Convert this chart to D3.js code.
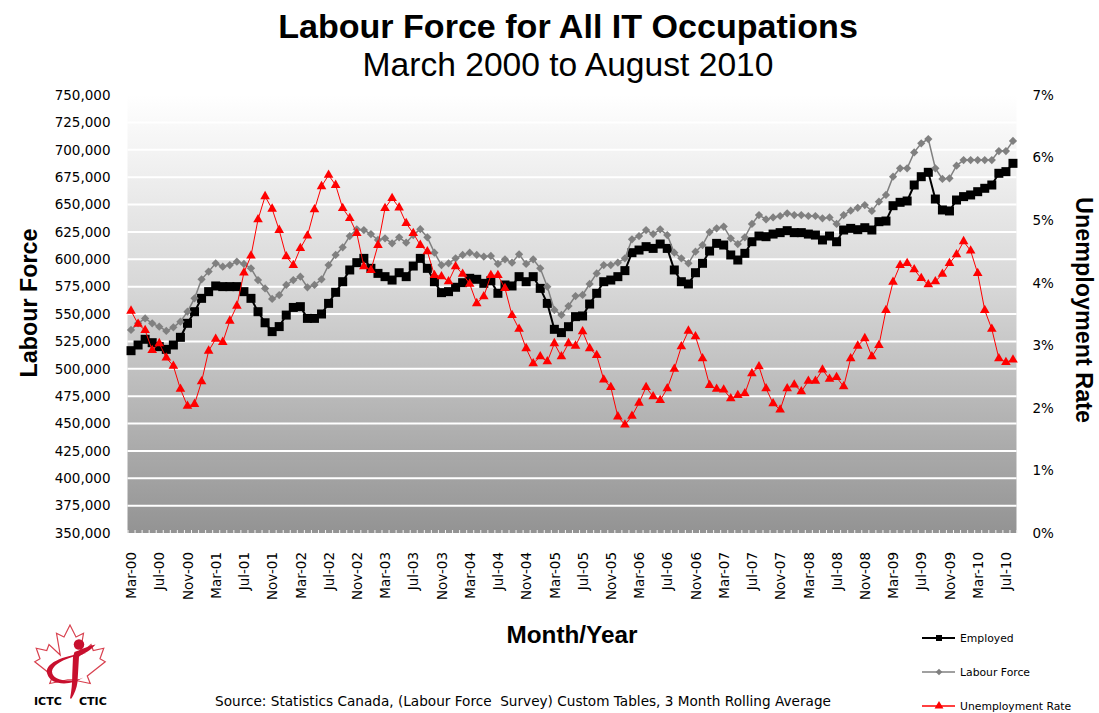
<html>
<head>
<script src="https://d3js.org/d3.v7.min.js"></script>
<style>
  body { margin: 0; background: #ffffff; }
  text { fill: #000; }
</style>
</head>
<body>
<svg width="1099" height="713" id="chart"></svg>
<script>
// month categories, Mar 2000 .. Aug 2010
var months = [
  "Mar-00","Apr-00","May-00","Jun-00","Jul-00","Aug-00","Sep-00","Oct-00","Nov-00","Dec-00",
  "Jan-01","Feb-01","Mar-01","Apr-01","May-01","Jun-01","Jul-01","Aug-01","Sep-01","Oct-01","Nov-01","Dec-01",
  "Jan-02","Feb-02","Mar-02","Apr-02","May-02","Jun-02","Jul-02","Aug-02","Sep-02","Oct-02","Nov-02","Dec-02",
  "Jan-03","Feb-03","Mar-03","Apr-03","May-03","Jun-03","Jul-03","Aug-03","Sep-03","Oct-03","Nov-03","Dec-03",
  "Jan-04","Feb-04","Mar-04","Apr-04","May-04","Jun-04","Jul-04","Aug-04","Sep-04","Oct-04","Nov-04","Dec-04",
  "Jan-05","Feb-05","Mar-05","Apr-05","May-05","Jun-05","Jul-05","Aug-05","Sep-05","Oct-05","Nov-05","Dec-05",
  "Jan-06","Feb-06","Mar-06","Apr-06","May-06","Jun-06","Jul-06","Aug-06","Sep-06","Oct-06","Nov-06","Dec-06",
  "Jan-07","Feb-07","Mar-07","Apr-07","May-07","Jun-07","Jul-07","Aug-07","Sep-07","Oct-07","Nov-07","Dec-07",
  "Jan-08","Feb-08","Mar-08","Apr-08","May-08","Jun-08","Jul-08","Aug-08","Sep-08","Oct-08","Nov-08","Dec-08",
  "Jan-09","Feb-09","Mar-09","Apr-09","May-09","Jun-09","Jul-09","Aug-09","Sep-09","Oct-09","Nov-09","Dec-09",
  "Jan-10","Feb-10","Mar-10","Apr-10","May-10","Jun-10","Jul-10","Aug-10"
];

// thousands of people
var employed = [
  516.5,521.7,526.9,523.8,520.2,517.7,521.7,528.7,541.5,552.1,564.3,570.4,575.6,575,575,575,570.4,564.3,552.1,542,533.9,
  538.5,549,556,556.7,546,546,550,559.7,569.8,579.5,590.2,596.9,600.8,591.7,587.1,584.1,581,587.7,584.1,593.8,600.8,
  591.7,579.5,569.5,570.4,574.4,578.6,582.6,581.7,578,580.4,568.9,576.5,575.6,584.1,579.5,584.1,573.4,559.7,536,533,
  538.4,547.6,548.2,559.1,568.9,579.5,581,584.1,589.6,606,608.4,611.5,609.9,613.9,609.9,590.2,579.5,577.4,587.7,596.3,607.5,
  614.5,613,603.9,599.3,605.4,616,621.2,620.6,623,624.3,626.1,624.3,624.3,623,622.1,617.6,621.2,616,626.7,628.2,627,
  628.8,626.7,634.3,634.9,648.9,652,653.2,667.8,675.4,679.4,655,645,644.1,654.1,657.2,658.7,661.7,664.8,667.8,678.5,680,687.6
];

var labourForce = [
  535.4,541.5,546,541.5,538.4,534.5,537.8,543,552.1,564.3,581.7,588.7,596.3,593.2,594.7,597.8,595.7,591.7,581,573.4,563.8,
  567.3,576.5,581,584.1,574.4,576.5,581.7,594.7,603.9,610.9,621.2,627.3,626.7,623,617.6,619.1,614.5,620,615.1,622.1,627.5,
  620,606,594.7,596.3,600.8,603.9,606,603.9,602.4,603,595.7,599.9,596.9,604.5,595.7,599.9,591.7,575,553.7,549.1,
  557.3,566.4,567.4,577.4,587.1,594.7,594.7,596.9,600.8,618.2,621.2,626.7,623,627.3,622.1,606,600.8,596.3,606.9,613,624.8,
  628.2,629.8,619.1,613.9,620,632.2,640.4,636.4,638.2,639.5,641.9,640.4,640.4,639.5,639.5,637.4,638.2,632.2,640.4,644.4,647,
  649.5,644.1,652.6,658.7,675.4,683,683,697.6,705.9,709.8,683,673.3,673.9,685.5,690.6,690.6,690.6,690.6,690.6,698.8,698.8,708
];

// percent
var unempRate = [
  3.55,3.34,3.24,2.92,3.03,2.80,2.67,2.30,2.03,2.06,2.42,2.91,3.10,3.05,3.39,3.63,4.16,4.43,5.01,5.38,5.18,
  4.84,4.42,4.28,4.55,4.75,5.17,5.54,5.72,5.56,5.19,5.03,4.79,4.26,4.20,4.60,5.19,5.35,5.20,4.95,4.79,4.60,
  4.50,4.12,4.10,4.02,4.26,4.14,3.98,3.67,3.78,4.12,4.12,3.91,3.48,3.26,2.95,2.71,2.82,2.74,3.03,2.82,
  3.03,2.99,3.22,2.95,2.84,2.45,2.33,1.86,1.73,1.87,2.08,2.33,2.18,2.12,2.31,2.62,2.98,3.23,3.14,2.79,2.36,
  2.30,2.29,2.15,2.20,2.23,2.55,2.66,2.31,2.07,1.97,2.31,2.37,2.26,2.43,2.43,2.61,2.46,2.49,2.34,2.79,2.99,
  3.11,2.82,3.00,3.56,4.01,4.28,4.31,4.21,4.07,3.97,4.02,4.14,4.31,4.45,4.66,4.51,4.15,3.56,3.26,2.79,2.73,2.77
];

var leftTicks = [350000,375000,400000,425000,450000,475000,500000,525000,550000,575000,
                 600000,625000,650000,675000,700000,725000,750000];
var rightTicks = [0,1,2,3,4,5,6,7];
var xTickLabels = ["Mar-00","Jul-00","Nov-00","Mar-01","Jul-01","Nov-01","Mar-02","Jul-02","Nov-02",
  "Mar-03","Jul-03","Nov-03","Mar-04","Jul-04","Nov-04","Mar-05","Jul-05","Nov-05","Mar-06","Jul-06",
  "Nov-06","Mar-07","Jul-07","Nov-07","Mar-08","Jul-08","Nov-08","Mar-09","Jul-09","Nov-09","Mar-10","Jul-10"];

var svg = d3.select("#chart");
var plotL = 127.5, plotR = 1016.5, plotT = 95, plotB = 533;

var x = d3.scalePoint().domain(months).range([plotL, plotR]).padding(0.5);
var xEdge = d3.scaleLinear().domain([0, months.length]).range([plotL, plotR]);
var yL = d3.scaleLinear().domain([350000, 750000]).range([plotB, plotT]);
var yR = d3.scaleLinear().domain([0, 7]).range([plotB, plotT]);

// shrink/grow a text so it spans the given width
function fit(sel, w) {
  var s = parseFloat(sel.style("font-size"));
  var len = sel.node().getComputedTextLength();
  sel.style("font-size", (s * w / len) + "px");
}

// plot background
var defs = svg.append("defs");
var grad = defs.append("linearGradient").attr("id", "bg")
  .attr("x1", 0).attr("y1", 0).attr("x2", 0).attr("y2", 1);
grad.append("stop").attr("offset", "0%").attr("stop-color", "#ffffff");
grad.append("stop").attr("offset", "45%").attr("stop-color", "#d6d6d6");
grad.append("stop").attr("offset", "100%").attr("stop-color", "#939393");

svg.append("rect")
  .attr("x", plotL).attr("y", plotT)
  .attr("width", plotR - plotL).attr("height", plotB - plotT)
  .attr("fill", "url(#bg)");

svg.append("g").selectAll("line")
  .data(leftTicks.slice(1))
  .enter().append("line")
  .attr("x1", plotL).attr("x2", plotR)
  .attr("y1", d => yL(d)).attr("y2", d => yL(d))
  .attr("stroke", "#ffffff").attr("stroke-width", 2);

// little category ticks along the bottom
var tickG = svg.append("g").attr("transform", "translate(0," + plotB + ")")
  .call(d3.axisBottom(xEdge).tickValues(d3.range(months.length + 1)).tickSize(-3).tickFormat(""));
tickG.select(".domain").remove();
tickG.selectAll("line").attr("stroke", "#f4f4f4");

// left axis
var gl = svg.append("g").attr("transform", "translate(" + plotL + ",0)")
  .call(d3.axisLeft(yL).tickValues(leftTicks).tickSize(0).tickPadding(17).tickFormat(d3.format(",")));
gl.select(".domain").remove();
gl.selectAll("text").style("font-family", "DejaVu Sans").style("font-size", "13.5px").attr("fill", "#111");

// right axis
var gr = svg.append("g").attr("transform", "translate(" + plotR + ",0)")
  .call(d3.axisRight(yR).tickValues(rightTicks).tickSize(0).tickPadding(16).tickFormat(d => d + "%"));
gr.select(".domain").remove();
gr.selectAll("text").style("font-family", "DejaVu Sans").style("font-size", "13.5px").attr("fill", "#111");

// bottom labels
var gb = svg.append("g").attr("transform", "translate(0," + plotB + ")")
  .call(d3.axisBottom(x).tickValues(xTickLabels).tickSize(0));
gb.select(".domain").remove();
gb.selectAll("text")
  .attr("x", -19).attr("y", 0).attr("dy", "0.35em")
  .attr("transform", "rotate(-90)")
  .style("text-anchor", "end")
  .style("font-family", "DejaVu Sans").style("font-size", "13.5px").attr("fill", "#111");

// series
var lineL = d3.line().x((d, i) => x(months[i])).y(d => yL(d * 1000));
var lineR = d3.line().x((d, i) => x(months[i])).y(d => yR(d));

svg.append("path").datum(employed).attr("d", lineL)
  .attr("fill", "none").attr("stroke", "#000").attr("stroke-width", 2);
svg.append("g").selectAll("rect").data(employed).enter().append("rect")
  .attr("x", (d, i) => x(months[i]) - 4.5).attr("y", d => yL(d * 1000) - 4.5)
  .attr("width", 9).attr("height", 9).attr("fill", "#000");

svg.append("path").datum(labourForce).attr("d", lineL)
  .attr("fill", "none").attr("stroke", "#808080").attr("stroke-width", 1.5);
var diamond = d3.symbol().type(d3.symbolSquare).size(34);
svg.append("g").selectAll("path").data(labourForce).enter().append("path")
  .attr("d", diamond)
  .attr("transform", (d, i) => "translate(" + x(months[i]) + "," + yL(d * 1000) + ") rotate(45)")
  .attr("fill", "#808080");

svg.append("path").datum(unempRate).attr("d", lineR)
  .attr("fill", "none").attr("stroke", "#ff0000").attr("stroke-width", 1);
var tri = d3.symbol().type(d3.symbolTriangle).size(40);
svg.append("g").selectAll("path").data(unempRate).enter().append("path")
  .attr("d", tri)
  .attr("transform", (d, i) => "translate(" + x(months[i]) + "," + yR(d) + ")")
  .attr("fill", "#ff0000");

// titles
var t1 = svg.append("text").attr("x", 568).attr("y", 38).attr("text-anchor", "middle")
  .style("font-family", "Liberation Sans").style("font-weight", "bold").style("font-size", "28px")
  .text("Labour Force for All IT Occupations");
fit(t1, 580);
var t2 = svg.append("text").attr("x", 568).attr("y", 76).attr("text-anchor", "middle")
  .style("font-family", "Liberation Sans").style("font-size", "28px")
  .text("March 2000 to August 2010");
fit(t2, 411);

var ya = svg.append("text").attr("transform", "translate(37,303) rotate(-90)").attr("text-anchor", "middle")
  .style("font-family", "Liberation Sans").style("font-weight", "bold").style("font-size", "20px")
  .text("Labour Force");
fit(ya, 149);
var yb = svg.append("text").attr("transform", "translate(1076,310) rotate(90)").attr("text-anchor", "middle")
  .style("font-family", "Liberation Sans").style("font-weight", "bold").style("font-size", "20px")
  .text("Unemployment Rate");
fit(yb, 226);
var xa = svg.append("text").attr("x", 572).attr("y", 643).attr("text-anchor", "middle")
  .style("font-family", "Liberation Sans").style("font-weight", "bold").style("font-size", "20px")
  .text("Month/Year");
fit(xa, 131);
var src = svg.append("text").attr("x", 523).attr("y", 706).attr("text-anchor", "middle")
  .style("font-family", "DejaVu Sans").style("font-size", "13px")
  .text("Source: Statistics Canada, (Labour Force  Survey) Custom Tables, 3 Month Rolling Average")
  .attr("xml:space", "preserve");
fit(src, 617);

// legend
var legend = [
  {name: "Employed", color: "#000", y: 638, mark: "sq"},
  {name: "Labour Force", color: "#808080", y: 672, mark: "di"},
  {name: "Unemployment Rate", color: "#ff0000", y: 706, mark: "tr"}
];
var lg = svg.append("g").selectAll("g").data(legend).enter().append("g")
  .attr("transform", d => "translate(922," + d.y + ")");
lg.append("line").attr("x1", 0).attr("x2", 33)
  .attr("stroke", d => d.color).attr("stroke-width", d => d.mark == "sq" ? 2 : 1.3);
lg.append("path")
  .attr("d", d => d.mark == "sq" ? d3.symbol().type(d3.symbolSquare).size(36)()
                : d.mark == "di" ? d3.symbol().type(d3.symbolSquare).size(22)()
                : d3.symbol().type(d3.symbolTriangle).size(34)())
  .attr("transform", d => "translate(17,0)" + (d.mark == "di" ? " rotate(45)" : ""))
  .attr("fill", d => d.color);
lg.append("text").attr("x", 38).attr("dy", "0.35em")
  .style("font-family", "DejaVu Sans").style("font-size", "10.8px")
  .text(d => d.name);

// ICTC logo
var logo = svg.append("g").attr("transform", "translate(70,661) scale(0.75)");
var leaf = [[0,-48],[-8,-32],[-18,-37],[-13,-8],[-28,-22],[-31,-14],[-45,-17],[-40,-3],[-47,1],
  [-23,20],[-27,30],[-3,25],[3,25],[27,30],[23,20],[47,1],[40,-3],[45,-17],[31,-14],[28,-22],
  [13,-8],[18,-37],[8,-32]];
logo.append("path").attr("d", d3.line()(leaf) + "Z")
  .attr("fill", "#fff").attr("stroke", "#d8414f").attr("stroke-width", 1.6);
logo.append("path")
  .attr("d", "M-30,18 C-36,4 -10,-8 22,-10 C0,-6 -22,2 -24,14 C-24,26 0,30 18,22 C0,34 -26,32 -30,18 Z")
  .attr("fill", "#c8102e");
logo.append("path")
  .attr("d", "M6,-12 C12,-14 24,-20 34,-22 C28,-14 18,-10 12,-6 L10,28 C9,36 6,44 2,50 L0,50 C2,40 3,30 3,18 L4,-6 Z")
  .attr("fill", "#c8102e");
logo.append("circle").attr("cx", 12).attr("cy", -22).attr("r", 7).attr("fill", "#c8102e");
svg.append("text").attr("x", 34).attr("y", 705)
  .style("font-family", "DejaVu Sans").style("font-weight", "bold").style("font-size", "11px")
  .attr("fill", "#333").text("ICTC");
svg.append("text").attr("x", 79).attr("y", 705)
  .style("font-family", "DejaVu Sans").style("font-weight", "bold").style("font-size", "11px")
  .attr("fill", "#333").text("CTIC");
</script>
</body>
</html>
